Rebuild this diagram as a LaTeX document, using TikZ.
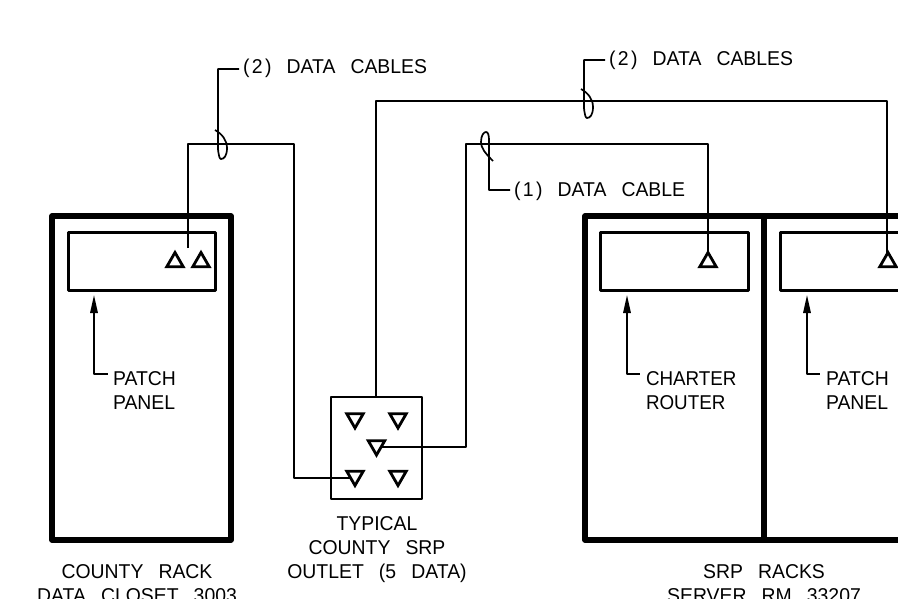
\documentclass[tikz,border=0pt]{standalone}
\usepackage{fontspec}
\setmainfont[WordSpace=2.8,FakeStretch=0.97]{Liberation Sans}
\newfontfamily\narrowfont[WordSpace=2.8,FakeStretch=0.94]{Liberation Sans}
\usetikzlibrary{shapes.geometric,arrows.meta}
\newcommand\parnum[1]{{\addfontfeature{LetterSpace=12}#1}}
\tikzset{
  rackbox/.style={draw,line width=5.6pt,line join=round,rectangle,minimum width=#1,minimum height=324pt,inner sep=0pt,outer sep=0pt},
  panelbox/.style={draw,line width=3pt,line join=round,rectangle,minimum width=#1,minimum height=58pt,inner sep=0pt,outer sep=0pt},
  outletbox/.style={draw,line width=2.6pt,line join=round,rectangle,minimum width=91pt,minimum height=102pt,inner sep=0pt,outer sep=0pt},
  jackup/.style={draw,line width=2.8pt,regular polygon,regular polygon sides=3,minimum size=19pt,inner sep=0pt,outer sep=0pt},
  jackdown/.style={jackup,shape border rotate=180},
  wire/.style={line width=2.6pt,line join=round},
  leader/.style={line width=1.7pt,line join=round},
  pointer/.style={line width=1.6pt,line join=round,{Triangle[length=18pt,width=7.5pt]}-},
  lbl/.style={inner sep=0pt,outer sep=0pt,font=\fontsize{20}{24}\selectfont,align=center,text=black}
}
\begin{document}
\begin{tikzpicture}[x=1pt,y=-1pt]
\useasboundingbox (0,0) rectangle (898,598);
\clip (0,0) rectangle (898,598);
\fill[white] (0,0) rectangle (898,598);
% racks
\node[rackbox=179pt] (rackC) at (141.5,378) {};
\node[rackbox=179pt] (rackA) at (674.5,378) {};
\node[rackbox=179pt] (rackB) at (853.5,378) {};
% panels
\node[panelbox=147pt] (panC) at (141.5,261) {};
\node[panelbox=148pt] (panA) at (674,261) {};
\node[panelbox=148pt] (panB) at (854,261) {};
% jacks in panels
\node[jackup] (jc1) at (175,262) {};
\node[jackup] (jc2) at (201,262) {};
\node[jackup] (ja) at (708,262) {};
\node[jackup] (jb) at (888,262) {};
% outlet
\node[outletbox] (outlet) at (376.5,448) {};
\node[jackdown] (o1) at (355,418.5) {};
\node[jackdown] (o2) at (398,418.5) {};
\node[jackdown] (o3) at (376.5,445.5) {};
\node[jackdown] (o4) at (355,476) {};
\node[jackdown] (o5) at (398,476) {};
% wire points
\coordinate (w1s) at (188,248);
\coordinate (w1a) at (188,144);
\coordinate (w1b) at (294,144);
\coordinate (w1c) at (294,478);
\coordinate (w1e) at (350,478);
\coordinate (w2a) at (376,101);
\coordinate (w2b) at (887,101);
\coordinate (w3s) at (382,447);
\coordinate (w3a) at (466,447);
\coordinate (w3b) at (466,144);
\coordinate (w3c) at (708,144);
\draw[wire] (w1s) -- (w1a) -- (w1b) -- (w1c) -- (w1e);
\draw[wire] (outlet.north -| w2a) -- (w2a) -- (w2b) -- (jb.corner 1 -| w2b);
\draw[wire] (w3s) -- (w3a) -- (w3b) -- (w3c) -- (ja.corner 1);
% labels
\node[lbl,anchor=west] (lab1) at (243,68) {\parnum{(2)} DATA CABLES};
\node[lbl,anchor=west] (lab2) at (609,60) {\parnum{(2)} DATA CABLES};
\node[lbl,anchor=west] (lab3) at (514,191) {\parnum{(1)} DATA CABLE};
\node[lbl,anchor=west,align=left] (patC) at (113,391) {PATCH\\PANEL};
\node[lbl,anchor=west,align=left,font=\fontsize{20}{24}\narrowfont] (chA) at (646,391) {CHARTER\\ROUTER};
\node[lbl,anchor=west,align=left] (patB) at (826,391) {PATCH\\PANEL};
\node[lbl] (outT) at (377,550) {TYPICAL\\COUNTY SRP\\OUTLET (5 DATA)};
\node[lbl,anchor=north] (capC) at (137,565) {COUNTY RACK\\DATA CLOSET 3003};
\node[lbl,anchor=north] (capA) at (764,565) {SRP RACKS\\SERVER RM 33207};
% cable marks and leaders
\coordinate (m1) at (218,144);
\coordinate (m2) at (584,103);
\coordinate (l1a) at (218,69);
\coordinate (l1b) at (239,69);
\coordinate (l2a) at (584,60);
\coordinate (l2b) at (605,60);
\coordinate (m3a) at (493,161);
\coordinate (m3b) at (489,140);
\coordinate (l3a) at (489,190);
\coordinate (l3b) at (510,190);
\draw[leader] ([shift={(-3,-14)}]m1) .. controls ([shift={(4,-10)}]m1) and ([shift={(9,-4)}]m1) .. ([shift={(9,4)}]m1) .. controls ([shift={(9,12)}]m1) and ([shift={(6,15)}]m1) .. ([shift={(3,15)}]m1) .. controls ([shift={(0,15)}]m1) and (m1) .. ([shift={(0,6)}]m1) -- (l1a) -- (l1b);
\draw[leader] ([shift={(-3,-14)}]m2) .. controls ([shift={(4,-10)}]m2) and ([shift={(9,-4)}]m2) .. ([shift={(9,4)}]m2) .. controls ([shift={(9,12)}]m2) and ([shift={(6,15)}]m2) .. ([shift={(3,15)}]m2) .. controls ([shift={(0,15)}]m2) and (m2) .. ([shift={(0,6)}]m2) -- (l2a) -- (l2b);
\draw[leader] (m3a) .. controls (485,153) and (481,148) .. (481,142) .. controls (481,135) and (484,132) .. (486,132) .. controls (488,132) and (489,135) .. (m3b) -- (l3a) -- (l3b);
% pointers
\coordinate (p1a) at (94,295);
\coordinate (p1b) at (94,374);
\coordinate (p1c) at (108,374);
\coordinate (p2a) at (627,295);
\coordinate (p2b) at (627,374);
\coordinate (p2c) at (640,374);
\coordinate (p3a) at (807,295);
\coordinate (p3b) at (807,374);
\coordinate (p3c) at (820,374);
\draw[pointer] (p1a) -- (p1b) -- (p1c);
\draw[pointer] (p2a) -- (p2b) -- (p2c);
\draw[pointer] (p3a) -- (p3b) -- (p3c);
\end{tikzpicture}
\end{document}
